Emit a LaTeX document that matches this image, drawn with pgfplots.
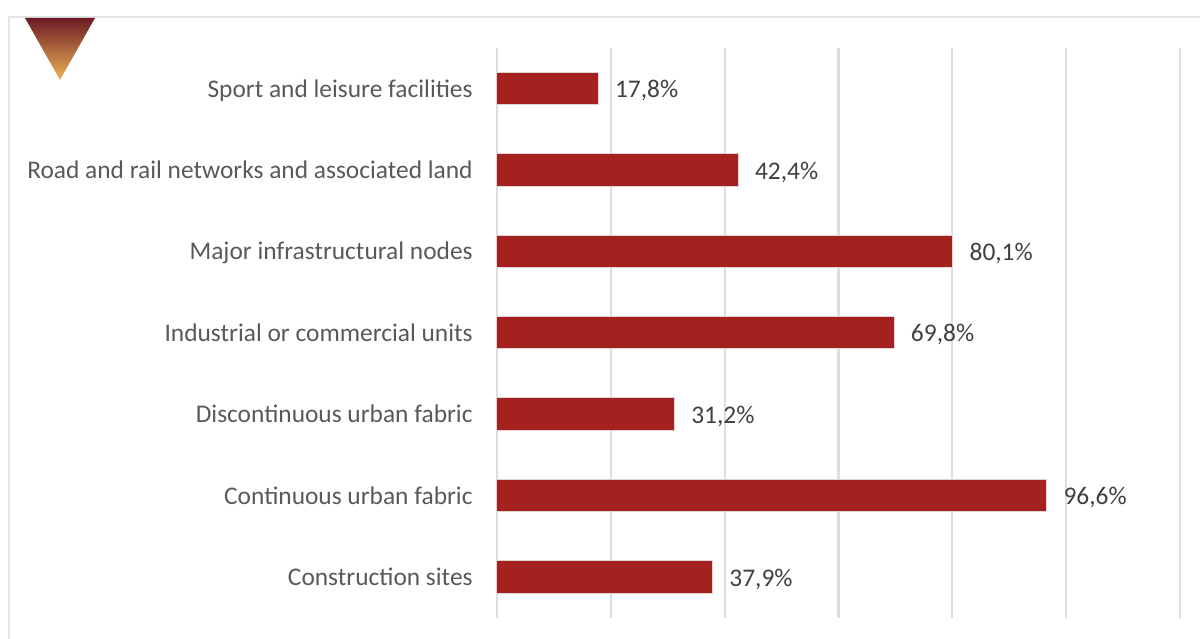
\documentclass[border=0pt]{standalone}
\usepackage{fontspec}
\setmainfont{Carlito}
\usepackage{pgfplots}
\pgfplotsset{compat=1.18}
\definecolor{barred}{HTML}{A42120}
\definecolor{baredge}{HTML}{DDD5D5}
\definecolor{gridgray}{HTML}{DEDEDE}
\definecolor{framegray}{HTML}{E4E4E4}
\definecolor{lblgray}{HTML}{595959}
\definecolor{valgray}{HTML}{404040}
\definecolor{tritop}{HTML}{6C1A24}
\definecolor{trimid}{HTML}{B85544}
\definecolor{tribot}{HTML}{EFB457}
\begin{document}
\begin{tikzpicture}[x=0.6pt,y=0.6pt]
% page is 1200x639, one unit is one reference pixel
\path[use as bounding box] (0,0) rectangle (1200,639);
\draw[framegray,line width=1.2pt] (9,0) -- (9,622) -- (1200,622);
\begin{scope}
\clip (25,621) -- (95,621) -- (60,559) -- cycle;
\shade[top color=tritop,middle color=trimid,bottom color=tribot] (20,559) rectangle (100,621);
\end{scope}
\begin{axis}[
  at={(298.2pt,12.6pt)}, anchor=south west,
  scale only axis, width=409.8pt, height=342pt,
  xmin=0, xmax=120, ymin=-0.505, ymax=6.5,
  xtick={0,20,40,60,80,100,120}, xticklabels={},
  ytick={0,1,2,3,4,5,6},
  yticklabels={Construction sites,Continuous urban fabric,Discontinuous urban fabric,Industrial or commercial units,Major infrastructural nodes,{Road and rail networks and associated land},Sport and leisure facilities},
  xmajorgrids, major grid style={gridgray,line width=1.3pt},
  axis line style={draw=none},
  major tick style={draw=none},
  yticklabel style={font=\fontsize{15.25pt}{17pt}\selectfont,text=lblgray,xshift=-6.8pt,yshift=-1.6pt,
    text height=10pt,text depth=3pt},
  xbar, bar width=19.4pt,
  bar shift=0pt,
  nodes near coords={\pgfmathprintnumber[fixed,fixed zerofill,precision=1,use comma]{\pgfplotspointmeta}\%},
  point meta=x,
  every node near coord/.append style={font=\fontsize{15.25pt}{17pt}\selectfont,text=valgray,xshift=6.4pt,yshift=-2pt,
    text height=10pt,text depth=3pt,
    /pgf/number format/assume math mode=true},
  clip=false,
]
\addplot[fill=barred,draw=baredge,line width=0.6pt] coordinates {
  (37.9,0) (96.6,1) (31.2,2) (69.8,3) (80.1,4) (42.4,5) (17.8,6)
};
\end{axis}
\end{tikzpicture}
\end{document}
